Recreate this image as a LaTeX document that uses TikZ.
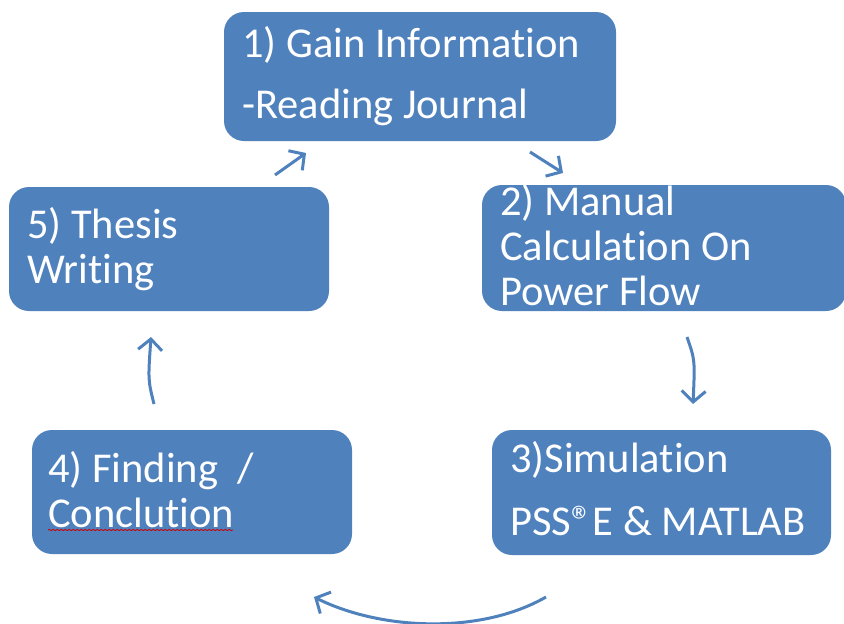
\documentclass[tikz,border=0pt]{standalone}
\usepackage{fontspec}
\setmainfont{Carlito}[Ligatures=NoCommon]
\usetikzlibrary{arrows.meta,decorations.pathmorphing}
\definecolor{boxblue}{HTML}{4F81BD}
\tikzset{
  box/.style={fill=boxblue, rounded corners=20pt},
  lbl/.style={anchor=base west, text=white, inner sep=0pt, font=\fontsize{42.5}{45}\selectfont},
  flow/.style={draw=boxblue, line width=3pt, -{Straight Barb[length=11pt,width=24pt,line width=3pt]}},
}
\begin{document}
\begin{tikzpicture}[x=1pt,y=-1pt]
\useasboundingbox (0,0) rectangle (844,624);
% boxes
\fill[box] (224,12) rectangle (616,141);
\fill[box] (482,185) rectangle (846,311);
\fill[box] (492,430) rectangle (831,555);
\fill[box] (32,430) rectangle (352,554);
\fill[box] (9,187) rectangle (329,311);
% texts
\node[lbl] (t1a) at (242,57) {1) Gain Information};
\node[lbl] (t1b) at (242,118) {-Reading Journal};
\node[lbl] (t2a) at (500,215) {2) Manual};
\node[lbl] (t2b) at (500,260) {Calculation On};
\node[lbl] (t2c) at (500,305) {Power Flow};
\node[lbl] (t3a) at (510,472) {3)Simulation};
\node[lbl] (t3b) at (510,535) {PSS®E \& MATLAB};
\node[lbl] (t4a) at (48,482) {4) Finding\ \ /};
\node[lbl] (t4b) at (48,527) {Conclution};
\node[lbl] (t5a) at (27,238) {5) Thesis};
\node[lbl] (t5b) at (27,283) {Writing};
% spell-check underline
\draw[red!80!black, line width=0.8pt, decorate, decoration={snake, amplitude=0.6pt, segment length=4pt}] (t4b.base west) ++(0,3) -- ++(185,0);
% arrow ends
\coordinate (a1s) at (275,175); \coordinate (a1e) at (306,153);
\coordinate (a2s) at (530,152); \coordinate (a2e) at (563,173);
\coordinate (a3s) at (687,337); \coordinate (a3e) at (693,404);
\coordinate (a4s) at (546,597); \coordinate (a4e) at (314,597);
\coordinate (a5s) at (154,404); \coordinate (a5e) at (151,337);
\draw[flow] (a1s) -- (a1e);
\draw[flow] (a2s) -- (a2e);
\draw[flow] (a3s) .. controls (695,360) .. (a3e);
\draw[flow] (a4s) .. controls (480,635) and (380,630) .. (a4e);
\draw[flow] (a5s) .. controls (148,380) .. (a5e);
\end{tikzpicture}
\end{document}
